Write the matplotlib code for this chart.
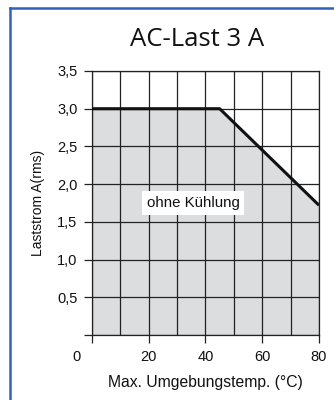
import matplotlib
matplotlib.use("Agg")
import matplotlib.pyplot as plt
from matplotlib.lines import Line2D
from matplotlib.transforms import ScaledTranslation

# ── data ─────────────────────────────────────────────────────────────────────
temp = [0, 45, 80]           # max. ambient temperature (°C)
current = [3.0, 3.0, 1.72]   # load current A(rms)

x_ticks = [0, 20, 40, 60, 80]
x_grid = [10, 30, 50, 70]
y_ticks = [0, 0.5, 1.0, 1.5, 2.0, 2.5, 3.0, 3.5]
y_labels = ["", "0,5", "1,0", "1,5", "2,0", "2,5", "3,0", "3,5"]

TITLE = "AC-Last 3 A"
XLABEL = "Max. Umgebungstemp. (°C)"
YLABEL = "Laststrom A(rms)"
NOTE = "ohne Kühlung"

plt.rcParams["font.family"] = ["Liberation Sans", "DejaVu Sans"]

fig = plt.figure(figsize=(3.34, 4.0), dpi=100)
ax = fig.add_axes([0.2754, 0.1625, 0.6796, 0.66])

ax.fill_between(temp, current, 0, color="#dcdddf", zorder=1)
ax.plot(temp, current, color="#111111", lw=2.2, solid_capstyle="butt", zorder=4)

ax.set_xlim(0, 80)
ax.set_ylim(0, 3.5)
ax.set_xticks(x_ticks)
ax.set_xticks(x_grid, minor=True)
ax.set_yticks(y_ticks)
ax.set_yticklabels(y_labels)
ax.set_xticklabels([str(t) for t in x_ticks])

ax.grid(which="both", color="#222222", lw=0.9, zorder=2)
ax.set_axisbelow(False)
for s in ax.spines.values():
    s.set_color("#222222")
    s.set_linewidth(0.9)

ax.tick_params(which="major", direction="out", length=5.5, width=0.9,
               color="#222222", labelsize=10.5, pad=5, labelcolor="#111111")
ax.tick_params(which="minor", length=0)

# origin label sits left of the corner
lbl0 = ax.get_xticklabels()[0]
lbl0.set_transform(lbl0.get_transform() + ScaledTranslation(-0.15, 0, fig.dpi_scale_trans))

ax.set_xlabel(XLABEL, fontsize=11.3, labelpad=8, color="#111111")
ax.set_ylabel(YLABEL, fontsize=10, labelpad=9, color="#111111")

ax.text(35.6, 1.75, NOTE, fontsize=10.8, ha="center", va="center", color="#111111",
        bbox=dict(facecolor="white", edgecolor="none", pad=3.5), zorder=5)

fig.text(0.591, 0.9, TITLE, fontsize=18.5, ha="center", va="center",
         family=["Open Sans", "DejaVu Sans"], color="#111111")

# blue frame (left and top edges visible)
fig.add_artist(Line2D([10 / 334, 10 / 334], [0, 1 - 7.5 / 400], color="#2f62b8", lw=1.8,
                      transform=fig.transFigure))
fig.add_artist(Line2D([10 / 334, 1], [1 - 7.5 / 400, 1 - 7.5 / 400], color="#2f62b8", lw=1.8,
                      transform=fig.transFigure))

fig.savefig("out.png", dpi=100)
